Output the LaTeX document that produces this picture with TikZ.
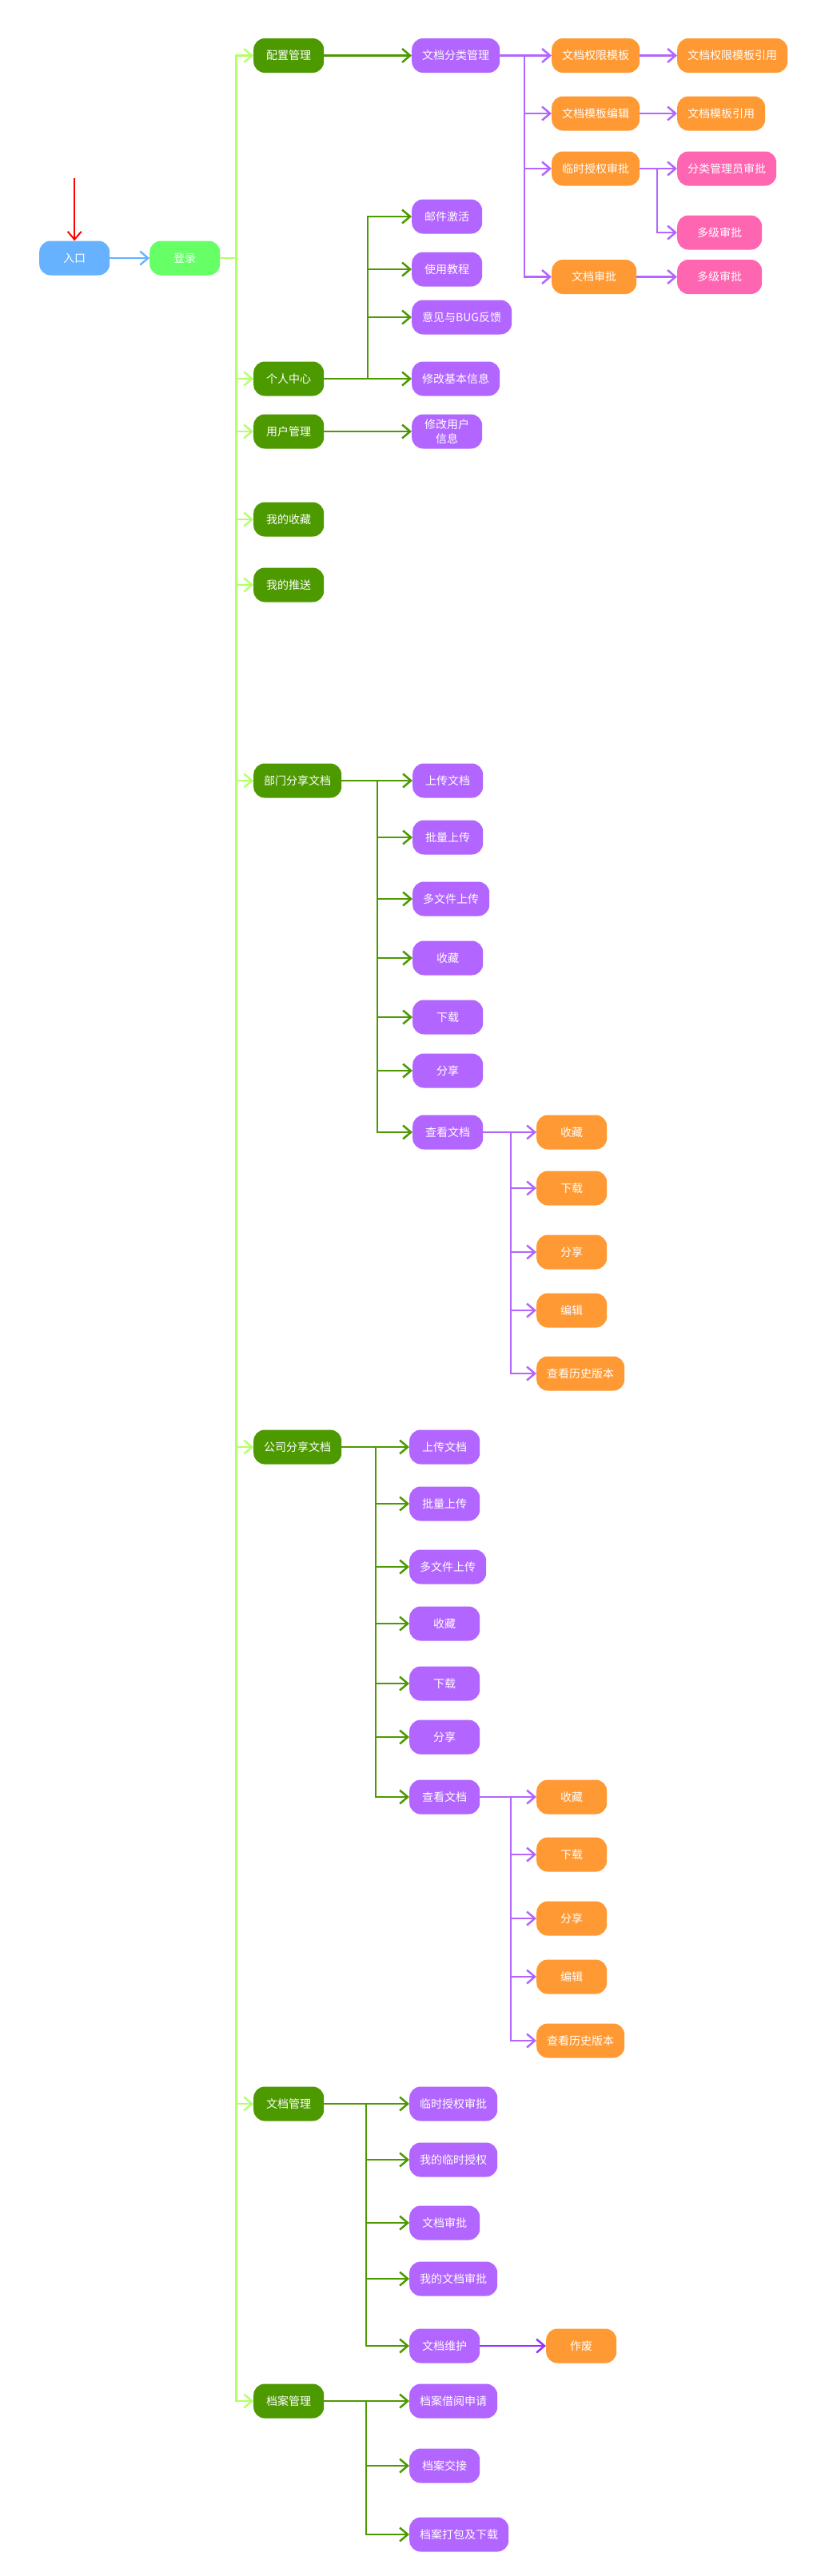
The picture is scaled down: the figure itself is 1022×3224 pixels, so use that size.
\documentclass[tikz,border=0pt]{standalone}
\usepackage{fontspec}
\newfontfamily\cjk{Noto Sans CJK SC}
\usetikzlibrary{arrows.meta,positioning}
\definecolor{entryBlue}{HTML}{66B2FF}
\definecolor{loginGreen}{HTML}{66FF66}
\definecolor{trunkGreen}{HTML}{B3FF66}
\definecolor{moduleGreen}{HTML}{4D9900}
\definecolor{funcPurple}{HTML}{B266FF}
\definecolor{subOrange}{HTML}{FF9933}
\definecolor{approvePink}{HTML}{FF66B2}
\definecolor{voidPurple}{HTML}{9933FF}
\tikzset{%
  >={Straight Barb[length=10pt,width=17pt]},
  % Specifications for style of nodes:
         base/.style = {rectangle, rounded corners=14pt, anchor=west,
                        minimum width=88pt, minimum height=43pt,
                        inner xsep=13pt, inner ysep=1pt,
                        text=white, align=center,
                        font=\cjk\fontsize{14}{18}\selectfont},
   entryPoint/.style = {base, fill=entryBlue},
    loginStep/.style = {base, fill=loginGreen},
   moduleItem/.style = {base, fill=moduleGreen},
     funcItem/.style = {base, fill=funcPurple},
      subItem/.style = {base, fill=subOrange},
  approveItem/.style = {base, fill=approvePink},
     wideItem/.style = {minimum width=106pt},
  % Specifications for style of lines:
    trunkLine/.style = {->, draw=trunkGreen, line width=2.3pt},
    entryLine/.style = {->, draw=entryBlue, line width=2.3pt},
      redLine/.style = {->, draw=red, line width=2pt},
    greenLine/.style = {->, draw=moduleGreen, line width=2.5pt},
   purpleLine/.style = {->, draw=funcPurple, line width=2.5pt},
     voidLine/.style = {->, draw=voidPurple, line width=2.5pt},
}
\begin{document}
\begin{tikzpicture}[x=1pt, y=-1pt]
  \fill[white] (0,0) rectangle (1022,3224);
  \useasboundingbox (0,0) rectangle (1022,3224);
  % Specification of nodes (position, etc.)
  \node (rukou)  [entryPoint] at (49,323)  {入口};
  \node (denglu) [loginStep]  at (187,323) {登录};
  \coordinate (redStart) at ([yshift=78pt]rukou.north);
  % main modules
  \node (peizhi)   [moduleItem] at (317,69.5) {配置管理};
  \node (geren)    [moduleItem] at (317,474)  {个人中心};
  \node (yonghu)   [moduleItem] at (317,540)  {用户管理};
  \node (shoucang) [moduleItem] at (317,650)  {我的收藏};
  \node (tuisong)  [moduleItem] at (317,732)  {我的推送};
  \node (bumen)    [moduleItem] at (317,977)  {部门分享文档};
  \node (gongsi)   [moduleItem] at (317,1811) {公司分享文档};
  \node (wendang)  [moduleItem] at (317,2633) {文档管理};
  \node (dangan)   [moduleItem] at (317,3005) {档案管理};
  % 配置管理
  \node (fenlei)      [funcItem]    at (515,69.5)  {文档分类管理};
  \node (quanxian)    [subItem]     at (690,69.5)  {文档权限模板};
  \node (muban)       [subItem]     at (690,142)   {文档模板编辑};
  \node (linshi)      [subItem]     at (690,211)   {临时授权审批};
  \node (shenpi)      [subItem, wideItem] at (690,346.5) {文档审批};
  \node (quanxianYin) [subItem]     at (847,69.5)  {文档权限模板引用};
  \node (mubanYin)    [subItem]     at (847,142)   {文档模板引用};
  \node (fenleiGly)   [approveItem] at (847,211)   {分类管理员审批};
  \node (duojiA)      [approveItem, wideItem] at (847,291)   {多级审批};
  \node (duojiB)      [approveItem, wideItem] at (847,346.5) {多级审批};
  \coordinate (fenleiFork) at (656,69.5);
  \coordinate (linshiFork) at (822,211);
  % 个人中心 / 用户管理
  \node (youjian)   [funcItem] at (515,271) {邮件激活};
  \node (jiaocheng) [funcItem] at (515,337) {使用教程};
  \node (yijian)    [funcItem] at (515,397) {意见与BUG反馈};
  \node (jiben)     [funcItem] at (515,474) {修改基本信息};
  \node (yhxx)      [funcItem] at (515,540) {修改用户\\信息};
  \coordinate (gerenFork) at (460,474);
  % 部门分享文档
  \node (bmShang)   [funcItem] at (516,977)  {上传文档};
  \node (bmPiliang) [funcItem] at (516,1048) {批量上传};
  \node (bmDuo)     [funcItem] at (516,1125) {多文件上传};
  \node (bmCang)    [funcItem] at (516,1199) {收藏};
  \node (bmXia)     [funcItem] at (516,1273) {下载};
  \node (bmXiang)   [funcItem] at (516,1340) {分享};
  \node (bmKan)     [funcItem] at (516,1417) {查看文档};
  \node (bmkCang)   [subItem]  at (671,1417) {收藏};
  \node (bmkXia)    [subItem]  at (671,1487) {下载};
  \node (bmkXiang)  [subItem]  at (671,1567) {分享};
  \node (bmkBian)   [subItem]  at (671,1640) {编辑};
  \node (bmkLishi)  [subItem]  at (671,1719) {查看历史版本};
  \coordinate (bumenFork) at (472,977);
  \coordinate (bmKanFork) at (639,1417);
  % 公司分享文档
  \node (gsShang)   [funcItem] at (512,1811) {上传文档};
  \node (gsPiliang) [funcItem] at (512,1882) {批量上传};
  \node (gsDuo)     [funcItem] at (512,1961) {多文件上传};
  \node (gsCang)    [funcItem] at (512,2032) {收藏};
  \node (gsXia)     [funcItem] at (512,2107) {下载};
  \node (gsXiang)   [funcItem] at (512,2174) {分享};
  \node (gsKan)     [funcItem] at (512,2249) {查看文档};
  \node (gskCang)   [subItem]  at (671,2249) {收藏};
  \node (gskXia)    [subItem]  at (671,2321) {下载};
  \node (gskXiang)  [subItem]  at (671,2401) {分享};
  \node (gskBian)   [subItem]  at (671,2474) {编辑};
  \node (gskLishi)  [subItem]  at (671,2554) {查看历史版本};
  \coordinate (gongsiFork) at (470,1811);
  \coordinate (gsKanFork)  at (639,2249);
  % 文档管理
  \node (wdLinshi)   [funcItem] at (512,2633) {临时授权审批};
  \node (wdWode)     [funcItem] at (512,2703) {我的临时授权};
  \node (wdShenpi)   [funcItem] at (512,2782) {文档审批};
  \node (wdWodeSp)   [funcItem] at (512,2852) {我的文档审批};
  \node (wdWeihu)    [funcItem] at (512,2936) {文档维护};
  \node (zuofei)     [subItem]  at (683,2936) {作废};
  \coordinate (wendangFork) at (458,2633);
  % 档案管理
  \node (daJieyue)  [funcItem] at (512,3005) {档案借阅申请};
  \node (daJiaojie) [funcItem] at (512,3086) {档案交接};
  \node (daDabao)   [funcItem] at (512,3172) {档案打包及下载};
  \coordinate (danganFork) at (458,3005);
  % Specification of lines between nodes specified above
  \draw[redLine]   (redStart) -- (rukou);
  \draw[entryLine] (rukou) -- (denglu);
  \draw[trunkLine] (denglu.east) -- ++(20,0) |- (peizhi);
  \draw[trunkLine] (denglu.east) -- ++(20,0) |- (geren);
  \draw[trunkLine] (denglu.east) -- ++(20,0) |- (yonghu);
  \draw[trunkLine] (denglu.east) -- ++(20,0) |- (shoucang);
  \draw[trunkLine] (denglu.east) -- ++(20,0) |- (tuisong);
  \draw[trunkLine] (denglu.east) -- ++(20,0) |- (bumen);
  \draw[trunkLine] (denglu.east) -- ++(20,0) |- (gongsi);
  \draw[trunkLine] (denglu.east) -- ++(20,0) |- (wendang);
  \draw[trunkLine] (denglu.east) -- ++(20,0) |- (dangan);
  % 配置管理
  \draw[greenLine]  (peizhi) -- (fenlei);
  \draw[purpleLine] (fenlei) -- (quanxian);
  \draw[purpleLine] (fenlei) -- (fenleiFork) |- (muban);
  \draw[purpleLine] (fenlei) -- (fenleiFork) |- (linshi);
  \draw[purpleLine] (fenlei) -- (fenleiFork) |- (shenpi);
  \draw[purpleLine] (quanxian) -- (quanxianYin);
  \draw[purpleLine] (muban) -- (mubanYin);
  \draw[purpleLine] (linshi) -- (fenleiGly);
  \draw[purpleLine] (linshi) -- (linshiFork) |- (duojiA);
  \draw[purpleLine] (shenpi) -- (duojiB);
  % 个人中心 / 用户管理
  \draw[greenLine] (geren) -- (gerenFork) |- (youjian);
  \draw[greenLine] (geren) -- (gerenFork) |- (jiaocheng);
  \draw[greenLine] (geren) -- (gerenFork) |- (yijian);
  \draw[greenLine] (geren) -- (jiben);
  \draw[greenLine] (yonghu) -- (yhxx);
  % 部门分享文档
  \draw[greenLine] (bumen) -- (bmShang);
  \draw[greenLine] (bumen) -- (bumenFork) |- (bmPiliang);
  \draw[greenLine] (bumen) -- (bumenFork) |- (bmDuo);
  \draw[greenLine] (bumen) -- (bumenFork) |- (bmCang);
  \draw[greenLine] (bumen) -- (bumenFork) |- (bmXia);
  \draw[greenLine] (bumen) -- (bumenFork) |- (bmXiang);
  \draw[greenLine] (bumen) -- (bumenFork) |- (bmKan);
  \draw[purpleLine] (bmKan) -- (bmkCang);
  \draw[purpleLine] (bmKan) -- (bmKanFork) |- (bmkXia);
  \draw[purpleLine] (bmKan) -- (bmKanFork) |- (bmkXiang);
  \draw[purpleLine] (bmKan) -- (bmKanFork) |- (bmkBian);
  \draw[purpleLine] (bmKan) -- (bmKanFork) |- (bmkLishi);
  % 公司分享文档
  \draw[greenLine] (gongsi) -- (gsShang);
  \draw[greenLine] (gongsi) -- (gongsiFork) |- (gsPiliang);
  \draw[greenLine] (gongsi) -- (gongsiFork) |- (gsDuo);
  \draw[greenLine] (gongsi) -- (gongsiFork) |- (gsCang);
  \draw[greenLine] (gongsi) -- (gongsiFork) |- (gsXia);
  \draw[greenLine] (gongsi) -- (gongsiFork) |- (gsXiang);
  \draw[greenLine] (gongsi) -- (gongsiFork) |- (gsKan);
  \draw[purpleLine] (gsKan) -- (gskCang);
  \draw[purpleLine] (gsKan) -- (gsKanFork) |- (gskXia);
  \draw[purpleLine] (gsKan) -- (gsKanFork) |- (gskXiang);
  \draw[purpleLine] (gsKan) -- (gsKanFork) |- (gskBian);
  \draw[purpleLine] (gsKan) -- (gsKanFork) |- (gskLishi);
  % 文档管理
  \draw[greenLine] (wendang) -- (wdLinshi);
  \draw[greenLine] (wendang) -- (wendangFork) |- (wdWode);
  \draw[greenLine] (wendang) -- (wendangFork) |- (wdShenpi);
  \draw[greenLine] (wendang) -- (wendangFork) |- (wdWodeSp);
  \draw[greenLine] (wendang) -- (wendangFork) |- (wdWeihu);
  \draw[voidLine]  (wdWeihu) -- (zuofei);
  % 档案管理
  \draw[greenLine] (dangan) -- (daJieyue);
  \draw[greenLine] (dangan) -- (danganFork) |- (daJiaojie);
  \draw[greenLine] (dangan) -- (danganFork) |- (daDabao);
\end{tikzpicture}
\end{document}
